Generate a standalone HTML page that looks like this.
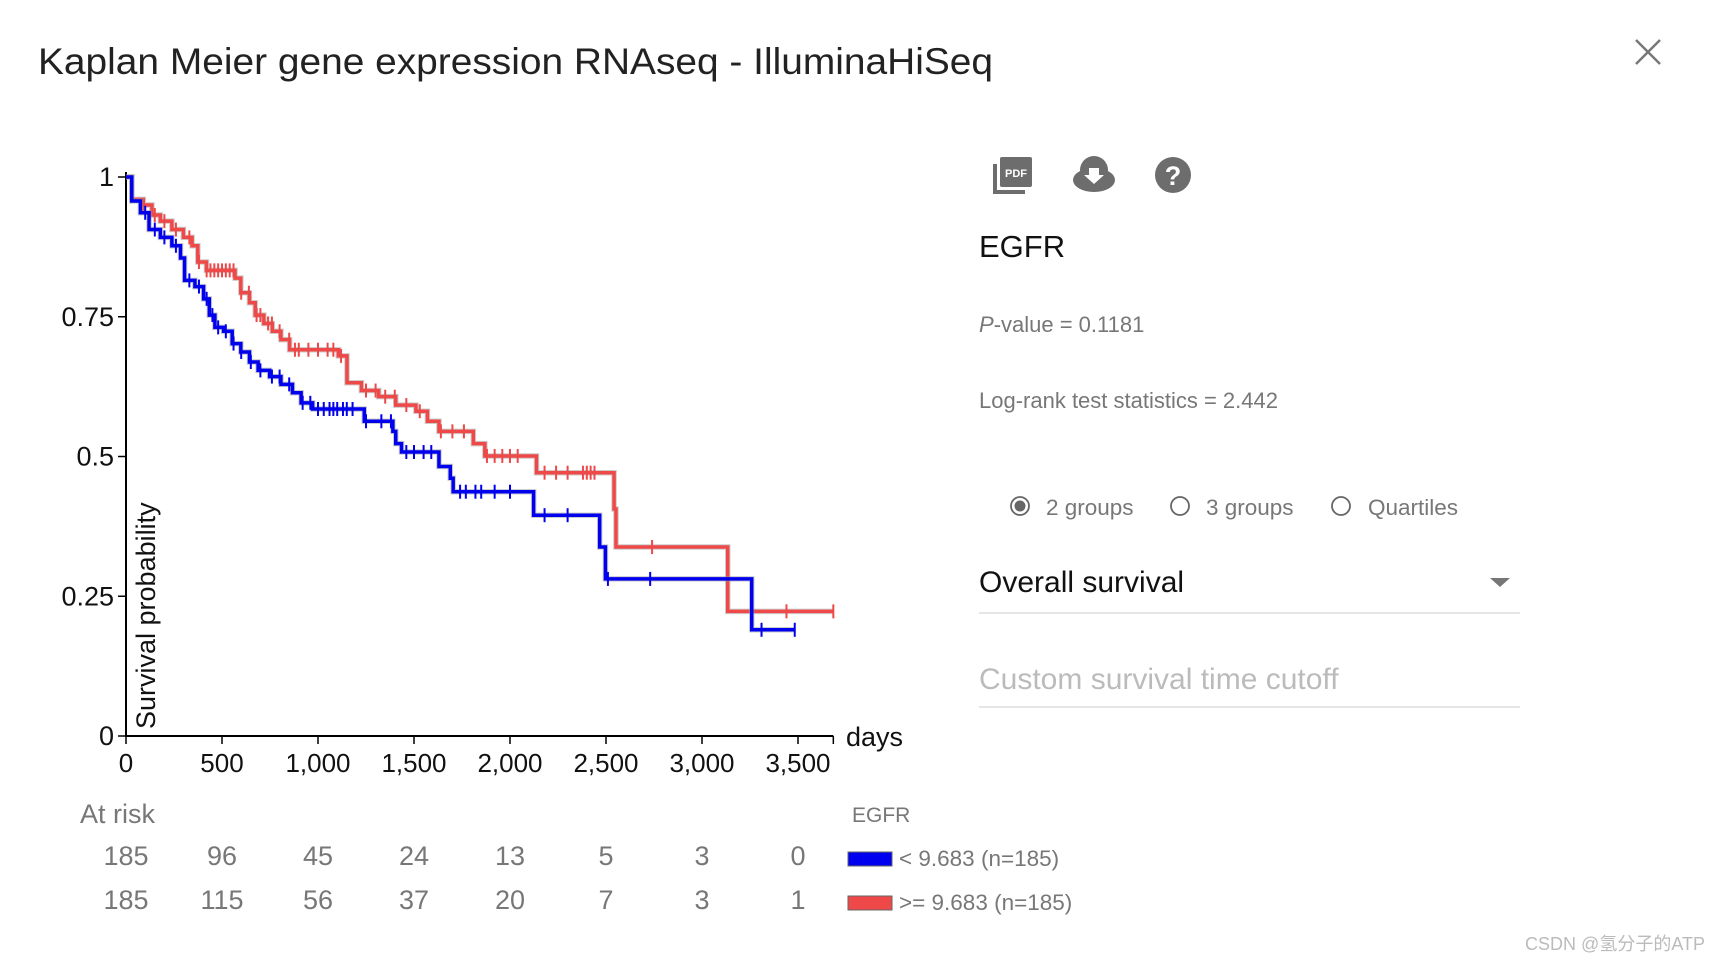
<!DOCTYPE html>
<html><head><meta charset="utf-8"><style>
html,body{margin:0;padding:0;background:#fff;width:1718px;height:960px;overflow:hidden}
svg text{font-family:"Liberation Sans","Noto Sans CJK SC",sans-serif}
</style></head><body>
<svg id="svg" width="1718" height="960" xmlns="http://www.w3.org/2000/svg">
<text x="38" y="74" font-size="37" fill="#222" textLength="955" lengthAdjust="spacingAndGlyphs">Kaplan Meier gene expression RNAseq - IlluminaHiSeq</text>
<g stroke="#777" stroke-width="2.5"><line x1="1636" y1="40" x2="1660" y2="64"/><line x1="1660" y1="40" x2="1636" y2="64"/></g>
<g id="plot"></g>
<text x="80" y="823" font-size="27" fill="#777">At risk</text>
<g id="risk"></g>
<text x="852" y="822" font-size="21" fill="#777">EGFR</text>
<g><rect x="848" y="852" width="44" height="14" fill="#0000ee" stroke="#666" stroke-width="1"/><text x="899" y="866" font-size="22.5" fill="#777">&lt; 9.683 (n=185)</text></g>
<g><rect x="848" y="896" width="44" height="14" fill="#ef4848" stroke="#666" stroke-width="1"/><text x="899" y="910" font-size="22.5" fill="#777">&gt;= 9.683 (n=185)</text></g>
<g fill="#6d6d6d"><rect x="1000" y="157" width="32" height="30" rx="2"/><rect x="993" y="164" width="4" height="30"/><rect x="993" y="190" width="32" height="4"/><text x="1016" y="177" font-size="11" font-weight="bold" fill="#fff" text-anchor="middle">PDF</text></g>
<g><ellipse cx="1094" cy="180" rx="21" ry="12" fill="#6d6d6d"/><circle cx="1094" cy="170" r="14" fill="#6d6d6d"/><path d="M1089 168h10v7h5l-10 9-10-9h5z" fill="#fff"/></g>
<g><circle cx="1173" cy="175" r="18" fill="#6d6d6d"/><text x="1173" y="185" font-size="27" font-weight="bold" fill="#fff" text-anchor="middle">?</text></g>
<text x="979" y="257" font-size="31" fill="#111">EGFR</text>
<text x="979" y="332" font-size="22" fill="#777"><tspan font-style="italic">P</tspan>-value = 0.1181</text>
<text x="979" y="408" font-size="22" fill="#777">Log-rank test statistics = 2.442</text>
<g><circle cx="1020" cy="506" r="9" fill="none" stroke="#666" stroke-width="1.8"/><circle cx="1020" cy="506" r="5.5" fill="#666"/><text x="1046" y="515" font-size="22.5" fill="#777">2 groups</text></g>
<g><circle cx="1180" cy="506" r="9" fill="none" stroke="#666" stroke-width="1.8"/><text x="1206" y="515" font-size="22.5" fill="#777">3 groups</text></g>
<g><circle cx="1341" cy="506" r="9" fill="none" stroke="#666" stroke-width="1.8"/><text x="1368" y="515" font-size="22.5" fill="#777">Quartiles</text></g>
<g><text x="979" y="592" font-size="30" fill="#111">Overall survival</text><path d="M1490 578h20l-10 9z" fill="#777"/><line x1="979" y1="613" x2="1520" y2="613" stroke="#ddd" stroke-width="1.5"/></g>
<g><text x="979" y="689" font-size="30" fill="#bbb">Custom survival time cutoff</text><line x1="979" y1="707" x2="1520" y2="707" stroke="#ddd" stroke-width="1.5"/></g>
<text x="1705" y="950" font-size="18" fill="#bbb" text-anchor="end">CSDN @氢分子的ATP</text>
</svg>
<script>
const yTicks=[0,0.25,0.5,0.75,1];
const yTickLabels=["0","0.25","0.5","0.75","1"];
const xTicks=[0,500,1000,1500,2000,2500,3000,3500];
const xTickLabels=["0","500","1,000","1,500","2,000","2,500","3,000","3,500"];
const lowTimes=[0,30,75,120,179,239,284,305,359,404,434,463,508,553,598,643,688,748,807,867,912,972,1241,1390,1405,1435,1630,1689,1704,2123,2467,2497,3259];
const lowSurv=[1,0.957,0.936,0.906,0.892,0.877,0.855,0.815,0.804,0.782,0.753,0.731,0.724,0.702,0.687,0.669,0.654,0.643,0.629,0.614,0.596,0.585,0.563,0.545,0.523,0.508,0.482,0.461,0.437,0.395,0.338,0.281,0.190];
const lowEnd=3483;
const lowCensor=[100,150,200,260,330,380,420,450,480,520,560,600,650,700,760,800,850,920,960,1000,1030,1060,1080,1100,1130,1150,1180,1250,1330,1380,1460,1500,1550,1590,1740,1770,1820,1850,1920,2000,2180,2300,2510,2730,3310,3483];
const highTimes=[0,30,90,135,179,239,299,344,374,419,568,598,643,673,718,762,807,852,1106,1151,1226,1316,1405,1510,1570,1630,1809,1869,2138,2542,2552,3134];
const highSurv=[1,0.96,0.95,0.932,0.921,0.906,0.892,0.877,0.848,0.833,0.819,0.793,0.775,0.753,0.738,0.724,0.709,0.691,0.68,0.632,0.618,0.607,0.592,0.581,0.563,0.545,0.523,0.501,0.471,0.406,0.338,0.223];
const highEnd=3684;
const highCensor=[90,150,200,260,330,380,420,440,460,480,500,520,540,560,600,640,680,700,740,760,800,850,880,900,950,1000,1050,1080,1120,1250,1300,1350,1400,1460,1530,1640,1700,1760,1880,1920,1960,2000,2040,2180,2240,2300,2380,2400,2420,2440,2740,3440,3684];
const riskLow=[185,96,45,24,13,5,3,0];
const riskHigh=[185,115,56,37,20,7,3,1];
const NS="http://www.w3.org/2000/svg";
const X0=126,PX=0.192,Y0=736,Y1=177,XMAX=3684;
const xs=d=>X0+d*PX, ys=p=>Y0-(Y0-Y1)*p;
const plot=document.getElementById('plot');
function mk(tag,attrs,parent){const e=document.createElementNS(NS,tag);for(const k in attrs)e.setAttribute(k,attrs[k]);(parent||plot).appendChild(e);return e;}
const ax=mk('path',{d:`M${X0} ${Y1-5}V${Y0}H${xs(XMAX)}`,fill:'none',stroke:'#000','stroke-width':2});


yTicks.forEach((v,i)=>{
 const g=mk('g',{});
 
 
 mk('line',{x1:X0-8,x2:X0,y1:ys(v),y2:ys(v),stroke:'#000','stroke-width':1.5},g);
 const t=mk('text',{x:X0-12,y:ys(v)+9,'font-size':27,'text-anchor':'end',fill:'#111'},g);t.textContent=yTickLabels[i];
});
xTicks.forEach((v,i)=>{
 const g=mk('g',{});
 
 
 mk('line',{x1:xs(v),x2:xs(v),y1:Y0,y2:Y0+8,stroke:'#000','stroke-width':1.5},g);
 const t=mk('text',{x:xs(v),y:772,'font-size':26,'text-anchor':'middle',fill:'#111'},g);t.textContent=xTickLabels[i];
});
mk('line',{x1:xs(XMAX),x2:xs(XMAX),y1:Y0,y2:Y0+8,stroke:'#000','stroke-width':1.5});
const dl=mk('text',{x:846,y:746,'font-size':27,fill:'#111'});dl.textContent='days';


const yl=mk('text',{x:0,y:0,'font-size':27,fill:'#111',transform:'translate(155,729) rotate(-90)'});yl.textContent='Survival probability';


function survAt(times,surv,t){let s=1;for(let i=0;i<times.length;i++){if(times[i]<=t)s=surv[i];}return s;}
function curve(times,surv,end,cens,color,name){
 let d=`M${xs(times[0])} ${ys(surv[0])}`;
 for(let i=1;i<times.length;i++){d+=`H${xs(times[i])}V${ys(surv[i])}`;}
 d+=`H${xs(end)}`;
 const g=mk('g',{});
 
 
 mk('path',{d,fill:'none',stroke:'#999','stroke-width':5.5,opacity:0.5},g);
 mk('path',{d,fill:'none',stroke:color,'stroke-width':3.5},g);
 cens.forEach(c=>{const y=ys(survAt(times,surv,c));mk('line',{x1:xs(c),x2:xs(c),y1:y-7,y2:y+7,stroke:color,'stroke-width':2},g);});
}
curve(highTimes,highSurv,highEnd,highCensor,'#ef4848','curve-high');
curve(lowTimes,lowSurv,lowEnd,lowCensor,'#0000ee','curve-low');
const risk=document.getElementById('risk');
[[riskLow,865],[riskHigh,909]].forEach(([arr,y])=>{arr.forEach((v,i)=>{
 const t=mk('text',{x:xs(xTicks[i]),y,'font-size':27,'text-anchor':'middle',fill:'#777'},risk);
 
 
 t.textContent=v;});});
</script>
</body></html>
